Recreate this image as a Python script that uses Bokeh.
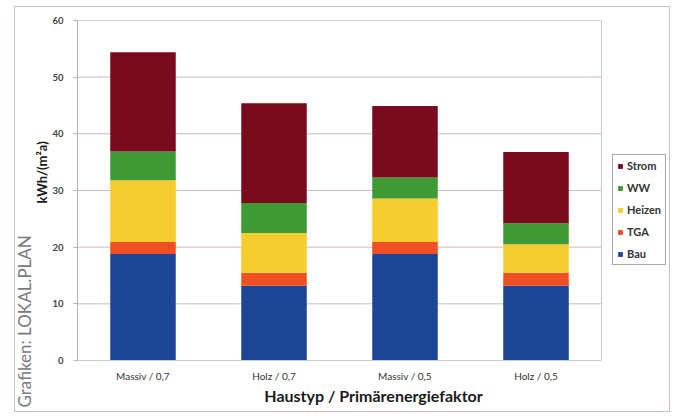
from bokeh.plotting import figure
from bokeh.models import Legend, LegendItem, Title, FixedTicker, ColumnDataSource, Range1d
from bokeh.embed import file_html
from bokeh.resources import INLINE

categories = ["Massiv / 0,7", "Holz / 0,7", "Massiv / 0,5", "Holz / 0,5"]
bau = [18.8, 13.2, 18.8, 13.2]
tga = [2.1, 2.3, 2.1, 2.3]
heizen = [10.9, 7.0, 7.7, 5.0]
ww = [5.1, 5.3, 3.7, 3.7]
strom = [17.5, 17.6, 12.6, 12.6]

series = ["Bau", "TGA", "Heizen", "WW", "Strom"]
colors = ["#1c4596", "#f04e23", "#f5cd2e", "#3d9a35", "#7a0a1e"]
y_ticks = [0, 10, 20, 30, 40, 50, 60]

n = len(categories)
xs = list(range(n))
source = ColumnDataSource(dict(x=xs, Bau=bau, TGA=tga, Heizen=heizen, WW=ww, Strom=strom))

# frame is wider than the plot area so that the legend fits inside it
cat_px = 131
frame_w = 592
p = figure(frame_width=frame_w, frame_height=340,
           x_range=Range1d(-0.5, -0.5 + frame_w / cat_px), y_range=Range1d(0, 60),
           output_backend="svg", toolbar_location=None,
           min_border_left=62, min_border_right=0, min_border_top=13, min_border_bottom=51)
p.margin = (6, 3, 5, 14)
p.styles = {"border": "1px solid #cdbfbf"}
p.outline_line_color = None
p.xgrid.grid_line_color = None
p.ygrid.grid_line_color = None

# plot-area gridlines and outline
p.segment(x0=[-0.5] * len(y_ticks), x1=[n - 0.5] * len(y_ticks), y0=y_ticks, y1=y_ticks,
          line_color="#cbbdbd", line_width=1)
p.quad(left=[-0.5], right=[n - 0.5], bottom=[y_ticks[0]], top=[y_ticks[-1]],
       fill_alpha=0, line_color="#d3c7c7", line_width=1)

renderers = p.vbar_stack(series, x="x", width=0.5, color=colors, line_color=None, source=source)

p.yaxis.ticker = FixedTicker(ticks=y_ticks)
p.yaxis.axis_line_color = "#bbb0b0"
p.yaxis.major_tick_line_color = "#bbb0b0"
p.yaxis.major_tick_out = 4
p.yaxis.major_tick_in = 0
p.yaxis.minor_tick_line_color = None
p.yaxis.major_label_text_font = "Lato"
p.yaxis.major_label_text_font_style = "bold"
p.yaxis.major_label_text_font_size = "9.5px"
p.yaxis.major_label_text_color = "#444444"
p.yaxis.major_label_standoff = 10

p.xaxis.ticker = FixedTicker(ticks=xs)
p.xaxis.major_label_overrides = {i: c for i, c in zip(xs, categories)}
p.xaxis.bounds = (-0.5, n - 0.5)
p.xaxis.axis_line_color = "#d3c7c7"
p.xaxis.major_tick_line_color = None
p.xaxis.minor_tick_line_color = None
p.xaxis.major_label_text_font = "Lato"
p.xaxis.major_label_text_font_size = "10px"
p.xaxis.major_label_text_color = "#333333"
p.xaxis.major_label_standoff = 3
p.xaxis.axis_label = "Haustyp / Primärenergiefaktor"
p.xaxis.axis_label_text_font = "Lato"
p.xaxis.axis_label_text_font_style = "bold"
p.xaxis.axis_label_text_font_size = "16px"
p.xaxis.axis_label_text_color = "#1a1a1a"
p.xaxis.axis_label_standoff = 1

# y-axis title (as a side title so it can sit where the reference has it)
y_title = Title(text="kWh/(m²a)", align="left", offset=157, standoff=0,
                text_font="Lato", text_font_size="13px", text_font_style="bold",
                text_color="#1a1a1a")
p.add_layout(y_title, "left")

credit = Title(text="Grafiken: LOKAL.PLAN", align="left", offset=-47, standoff=-7,
               text_font="Lato", text_font_size="17px", text_font_style="normal",
               text_color="#7a7a7a")
p.add_layout(credit, "left")

items = [LegendItem(label=s, renderers=[r]) for s, r in zip(series, renderers)][::-1]
legend = Legend(items=items, location=(535, 95), orientation="vertical",
                border_line_color="#555555", border_line_width=1,
                background_fill_color="white", background_fill_alpha=1.0,
                label_text_font="Lato", label_text_font_size="11px",
                label_text_font_style="bold", label_text_color="#333333",
                glyph_width=6, glyph_height=6, label_height=12, label_standoff=4,
                spacing=9, padding=4, margin=0)
p.add_layout(legend, "center")

open("out.html", "w").write(file_html(p, INLINE))
